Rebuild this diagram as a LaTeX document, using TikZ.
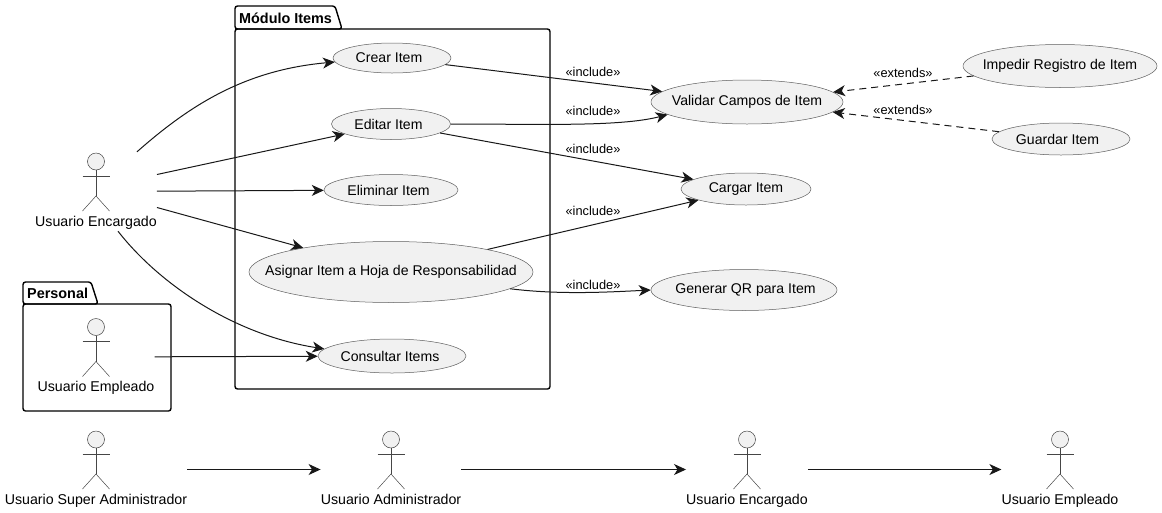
\documentclass[tikz,border=0pt]{standalone}
\usepackage{fontspec}
\setmainfont{Liberation Sans}
\usetikzlibrary{arrows.meta,shapes.geometric}
\definecolor{ucfill}{HTML}{F1F1F1}
\definecolor{ucline}{HTML}{181818}
\tikzset{
    usecase/.style 2 args={ellipse,draw=ucline!70,line width=0.5pt,fill=ucfill,inner sep=0pt,minimum width=#1pt,minimum height=#2pt,font=\fontsize{14.1}{16}\selectfont},
    actorbox/.style={inner sep=0pt,text height=74pt,text depth=5pt,font=\fontsize{14.2}{16}\selectfont},
    stick/.style={draw=ucline!80,line width=0.5pt},
    pack/.style={draw=black,line width=1.4pt,rounded corners=2.5pt},
    packtitle/.style={anchor=west,inner sep=0pt,font=\fontsize{14.4}{16}\selectfont\bfseries},
    rel/.style={draw=ucline,line width=1pt,-{Stealth[length=12pt,width=11pt,inset=3.5pt]}},
    reldash/.style={rel,dash pattern=on 7pt off 5pt},
    stereo/.style={inner sep=0pt,font=\fontsize{12.8}{14}\selectfont}
}
\newcommand{\umlactor}[4]{
    \node[actorbox] (#1) at (#2,#3) {#4};
    \draw[stick,fill=ucfill] (#2,#3-30) circle (8.5);
    \draw[stick] (#2,#3-21.5)--(#2,#3+4.5);
    \draw[stick] (#2-13.5,#3-15.5)--(#2+13.5,#3-15.5);
    \draw[stick] (#2-13.5,#3+19.5)--(#2,#3+4.5)--(#2+13.5,#3+19.5);
}
\newcommand{\uctext}[2][0]{\makebox[0pt]{\kern#1pt\raisebox{-1.4pt}{#2}}}
\begin{document}
\begin{tikzpicture}[x=1pt,y=-1pt]
    \useasboundingbox (0,0) rectangle (1162,512);

    \draw[pack] (235,29)--(235,6)--(335,6)--(342,29)--cycle;
    \draw[pack] (235,29)--(550,29)--(550,389)--(235,389)--cycle;
    \node[packtitle] (moduloTitle) at (239,18.5) {Módulo Items};
    \draw[pack] (23,304)--(23,282)--(91,282)--(98,304)--cycle;
    \draw[pack] (23,304)--(171,304)--(171,411)--(23,411)--cycle;
    \node[packtitle] (personalTitle) at (27,293.5) {Personal};

    \umlactor{encargado}{96}{191.5}{Usuario Encargado}
    \umlactor{empleado}{96}{357}{Usuario Empleado}
    \umlactor{superAdmin}{96}{469.5}{Usuario Super Administrador}
    \umlactor{admin}{391}{469.5}{Usuario Administrador}
    \umlactor{encargadoB}{747}{469.5}{Usuario Encargado}
    \umlactor{empleadoB}{1060}{469.5}{Usuario Empleado}

    \node[usecase={118}{30}] (crear) at (392,58) {\uctext[-6]{Crear Item}};
    \node[usecase={119}{31}] (editar) at (391,124) {\uctext[-5]{Editar Item}};
    \node[usecase={134}{31}] (eliminar) at (391,190) {\uctext[-5]{Eliminar Item}};
    \node[usecase={284}{61}] (asignar) at (391,272) {\uctext{Asignar Item a Hoja de Responsabilidad}};
    \node[usecase={148}{34}] (consultar) at (392,356) {\uctext[-4]{Consultar Items}};
    \node[usecase={192}{44}] (validar) at (747,102) {\uctext{Validar Campos de Item}};
    \node[usecase={130}{32}] (cargar) at (746,189) {\uctext{Cargar Item}};
    \node[usecase={186}{41}] (generar) at (744,290) {\uctext[3]{Generar QR para Item}};
    \node[usecase={194}{43}] (impedir) at (1060,66) {\uctext{Impedir Registro de Item}};
    \node[usecase={138}{32}] (guardar) at (1061,139) {\uctext[-7]{Guardar Item}};

    \draw[rel] ([xshift=41pt]encargado.north) .. controls (190,105) and (245,70) .. (crear.184);
    \draw[rel] ([yshift=17pt]encargado.east)--(editar);
    \draw[rel] (encargado)--(eliminar);
    \draw[rel] ([yshift=-16pt]encargado.east)--(asignar);
    \draw[rel] ([xshift=22pt]encargado.south) .. controls (160,285) and (235,335) .. (consultar.174);
    \draw[rel] (empleado)--(consultar);

    \draw[rel] (crear)--(validar);
    \draw[rel] (editar.east) .. controls (540,124) and (620,127) .. (validar.189);
    \draw[rel] (editar)--(cargar);
    \draw[rel] (asignar)--(cargar);
    \draw[rel] (asignar.352) .. controls (560,295) and (610,292) .. (generar.west);
    \draw[reldash] (impedir)--(validar);
    \draw[reldash] (guardar)--(validar);

    \draw[rel] (superAdmin)--(admin);
    \draw[rel] (admin)--(encargadoB);
    \draw[rel] (encargadoB)--(empleadoB);

    \node[stereo] (incCrear) at (593,72) {«include»};
    \node[stereo] (incEditar) at (593,111) {«include»};
    \node[stereo] (incCargar) at (593,149) {«include»};
    \node[stereo] (incAsignar) at (593,211) {«include»};
    \node[stereo] (incGenerar) at (593,285) {«include»};
    \node[stereo] (extImpedir) at (903,73) {«extends»};
    \node[stereo] (extGuardar) at (903,110) {«extends»};
\end{tikzpicture}
\end{document}
